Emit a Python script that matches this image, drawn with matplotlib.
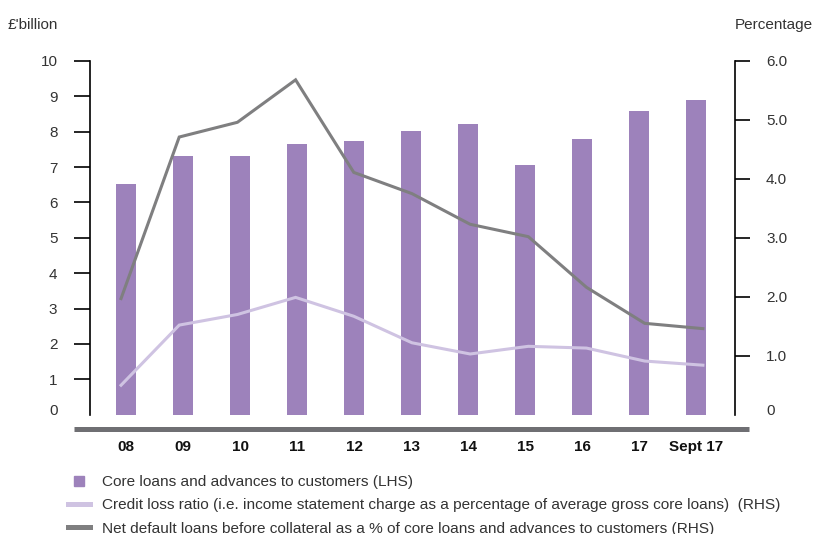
import numpy as np
import matplotlib
matplotlib.use('Agg')
import matplotlib.pyplot as plt
from matplotlib.lines import Line2D
from matplotlib.transforms import ScaledTranslation

plt.rcParams['font.family'] = ['Liberation Sans', 'DejaVu Sans']

# data
periods = ['08', '09', '10', '11', '12', '13', '14', '15', '16', '17', 'Sept 17']
core_loans = [6.52, 7.31, 7.31, 7.65, 7.74, 8.02, 8.22, 7.06, 7.80, 8.60, 8.90]
credit_loss = [0.50, 1.52, 1.70, 1.99, 1.67, 1.22, 1.03, 1.16, 1.13, 0.91, 0.84]
net_default = [1.97, 4.71, 4.96, 5.68, 4.11, 3.75, 3.23, 3.02, 2.16, 1.55, 1.46]

legend_labels = [
    'Core loans and advances to customers (LHS)',
    'Credit loss ratio (i.e. income statement charge as a percentage of average gross core loans)  (RHS)',
    'Net default loans before collateral as a % of core loans and advances to customers (RHS)',
]

bar_col = '#9d82bb'
light_col = '#cfc3e2'
dark_col = '#7f7f80'
text_col = '#333333'

fig = plt.figure(figsize=(8.14, 5.34), dpi=100)
ax = fig.add_axes([0.1106, 0.2234, 0.7924, 0.6624])
ax2 = ax.twinx()

x = np.arange(len(periods))
ax.bar(x, core_loans, width=0.35, color=bar_col, zorder=2)

# the lines run slightly wider than the bar centres
xl = np.linspace(-0.088, 10.12, len(periods))
ax2.plot(xl, credit_loss, color=light_col, lw=2.2, solid_joinstyle='miter')
ax2.plot(xl, net_default, color=dark_col, lw=2.2, solid_joinstyle='miter')

ax.set_xlim(-0.632, 10.684)
ax.set_ylim(0, 10)
ax2.set_ylim(0, 6)

for a in (ax, ax2):
    a.spines['top'].set_visible(False)
    a.spines['bottom'].set_visible(False)
ax.spines['right'].set_visible(False)
ax2.spines['left'].set_visible(False)
ax.spines['left'].set_linewidth(1.2)
ax2.spines['right'].set_linewidth(1.2)

ax.set_yticks(range(0, 11))
ax.set_yticklabels([str(v) for v in range(0, 11)])
ax2.set_yticks(range(0, 7))
ax2.set_yticklabels(['0'] + ['%.1f' % v for v in range(1, 7)])

ax.tick_params(axis='y', direction='out', length=11.5, width=1.2, pad=12,
               labelsize=11, labelcolor=text_col)
ax2.tick_params(axis='y', direction='out', length=10.8, width=1.2, pad=11.5,
                labelsize=11, labelcolor=text_col)

# no tick mark at zero, label sits a little higher
nudge = ScaledTranslation(0, 3.8 / 72, fig.dpi_scale_trans)
for a in (ax, ax2):
    t0 = a.yaxis.get_major_ticks()[0]
    t0.tick1line.set_visible(False)
    t0.tick2line.set_visible(False)
    for lab in (t0.label1, t0.label2):
        lab.set_transform(lab.get_transform() + nudge)

ax.set_xticks(x)
ax.set_xticklabels(periods, fontweight='bold', fontsize=11, color='#111111')
ax.tick_params(axis='x', length=0, pad=18.5)

# thick base rule under the plot
fig.add_artist(Line2D([74 / 814, 749 / 814], [1 - 428.5 / 534, 1 - 428.5 / 534],
                      color='#6f6f73', lw=3.6, solid_capstyle='butt'))

fig.text(8 / 814, 1 - 25 / 534, "£'billion", fontsize=11, color=text_col, va='center')
fig.text(735 / 814, 1 - 25 / 534, 'Percentage', fontsize=11, color=text_col, va='center')

handles = [
    Line2D([], [], marker='s', linestyle='none', markersize=6.5, color=bar_col),
    Line2D([], [], color=light_col, lw=3.6),
    Line2D([], [], color=dark_col, lw=3.6),
]
fig.legend(handles, legend_labels, loc='upper left',
           bbox_to_anchor=(68 / 814, 1 - 475 / 534), frameon=False,
           fontsize=11.1, labelcolor=text_col, handlelength=1.44,
           handletextpad=0.79, labelspacing=0.6, borderaxespad=0, borderpad=0)

fig.savefig('out.png', dpi=100)
